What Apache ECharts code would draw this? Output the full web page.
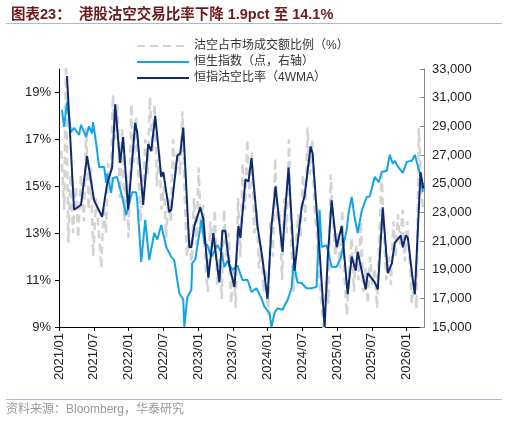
<!DOCTYPE html>
<html><head><meta charset="utf-8">
<script src="https://cdn.jsdelivr.net/npm/echarts@6/dist/echarts.min.js"></script>
<style>html,body{margin:0;padding:0;background:#fff}#c{width:507px;height:424px}</style>
</head><body><div id="c"></div>
<script>
// x values: months since 2021/01
const xTickLabels = ['2021/01','2021/07','2022/01','2022/07','2023/01','2023/07','2024/01','2024/07','2025/01','2025/07','2026/01'];
const hsiMonths = [0.52,0.87,1.38,2.08,2.6,3.46,3.8,4.67,5.19,5.71,5.88,6.4,6.92,7.79,8.13,8.3,9.0,9.34,10.03,10.9,11.59,12.11,12.63,13.32,13.5,14.19,14.88,15.57,16.44,16.96,17.65,18.51,19.38,19.9,20.76,21.45,21.63,22.15,22.84,23.01,23.53,24.57,25.09,25.61,26.3,26.82,27.34,28.03,28.55,29.07,29.93,30.8,31.66,32.53,33.22,34.08,34.95,35.47,36.33,36.68,37.2,37.72,38.58,39.45,40.14,40.48,41.18,41.87,42.73,43.6,44.46,44.98,45.33,46.19,47.06,47.92,48.62,49.65,50.0,50.52,51.04,51.56,52.25,53.11,53.63,54.5,55.19,55.71,56.57,57.09,57.61,57.96,58.48,59.34,60.03,60.9,61.42,61.76,62.28,62.8];
const hsiValues = [30150,28960,30700,28600,28900,28400,29100,28260,29000,28500,29300,27840,26170,26170,25050,25700,24350,25400,25470,24070,22820,23600,24400,24400,23800,19540,22470,19680,21560,21100,22120,20580,19890,19650,17370,16900,15000,17100,17580,19470,19700,22470,20860,20700,19890,20300,20720,20200,19190,19600,18980,19300,18280,18300,17440,17700,16980,16400,15980,15000,16000,16300,16200,16880,17700,19470,18100,18070,17700,17700,17800,23170,20580,20700,19190,19200,19800,21770,23000,24070,22600,21560,23100,24070,24100,25470,25100,25820,25900,27010,26400,26600,26200,25750,26520,26600,27010,27000,25750,24420];
const wmaMonths = [1.38,2.6,3.8,4.84,6.06,7.44,8.3,9.17,9.69,10.55,11.07,11.94,13.15,13.5,14.53,15.4,15.92,16.61,17.65,18.0,19.03,19.38,20.42,20.93,21.45,22.49,22.84,23.36,24.39,24.91,25.78,26.64,27.16,27.68,28.2,28.72,29.41,30.28,30.97,31.31,32.18,32.7,33.22,34.26,35.12,35.99,36.68,37.37,38.58,38.93,39.62,40.66,41.87,42.39,43.43,43.77,44.98,45.85,46.37,47.06,47.92,48.79,49.83,50.52,51.21,51.56,52.42,52.94,53.29,54.5,55.02,55.88,56.75,57.44,57.96,58.99,59.34,59.86,60.21,61.07,61.42,62.4,62.9];
const wmaValues = [19.7,14.0,14.2,16.3,14.4,13.7,15.1,15.8,18.5,16.0,17.1,14.0,17.7,17.3,14.2,16.8,16.5,18.0,15.4,15.6,13.9,14.0,16.3,16.4,17.5,12.4,12.4,13.3,14.1,13.6,11.1,13.0,11.9,10.9,13.1,13.1,11.6,10.7,13.3,12.8,15.3,15.2,16.2,13.3,11.9,10.2,13.3,15.0,12.2,13.6,15.8,11.4,14.1,14.6,16.7,16.4,12.2,9.0,11.9,14.4,12.4,13.3,10.4,12.0,11.4,12.2,11.2,10.6,11.3,10.9,10.6,14.1,11.3,11.7,12.6,12.9,12.4,12.9,12.8,11.0,10.4,15.6,14.9];
const rawMonths = [0.4,0.9,1.2,1.6,2.0,2.4,2.9,3.3,3.8,4.3,4.7,5.1,5.5,5.9,6.4,6.9,7.3,7.7,8.1,8.5,8.9,9.3,9.7,10.1,10.5,10.9,11.3,11.7,12.0,12.5,12.9,13.3,13.7,14.1,14.5,14.9,15.3,15.7,16.1,16.5,16.9,17.3,17.7,18.1,18.5,18.9,19.3,19.7,20.1,20.5,20.9,21.3,21.7,22.1,22.5,22.9,23.3,23.7,24.1,24.5,24.9,25.3,25.7,26.1,26.5,26.9,27.3,27.7,28.1,28.5,28.9,29.3,29.7,30.1,30.5,30.9,31.3,31.7,32.1,32.5,32.9,33.3,33.7,34.1,34.5,34.9,35.3,35.7,36.1,36.5,36.9,37.3,37.7,38.1,38.5,38.9,39.3,39.7,40.1,40.5,40.9,41.3,41.7,42.1,42.5,42.9,43.3,43.7,44.1,44.5,44.9,45.3,45.7,46.1,46.5,46.9,47.3,47.7,48.1,48.5,48.9,49.3,49.7,50.1,50.5,50.9,51.3,51.7,52.1,52.5,52.9,53.3,53.7,54.1,54.5,54.9,55.3,55.7,56.1,56.5,56.9,57.3,57.7,58.1,58.5,58.9,59.3,59.7,60.1,60.5,60.9,61.3,61.7,62.1,62.5,62.8];
const rawValues = [16.5,14.0,20.5,12.6,15.5,13.0,15.0,12.8,15.5,13.5,17.5,14.0,15.8,12.0,14.5,13.0,11.5,14.2,13.0,16.0,14.8,18.9,17.0,18.5,14.5,17.5,13.5,15.5,12.8,18.5,16.0,18.0,15.5,13.5,15.0,17.0,15.5,18.8,16.5,18.5,15.0,16.5,14.0,15.0,12.8,14.5,13.5,17.0,15.5,16.5,15.5,18.2,14.5,12.0,13.0,11.5,14.5,12.5,15.8,13.0,14.2,11.5,10.5,13.5,12.0,14.0,10.8,12.0,10.2,14.0,12.0,13.0,10.0,11.5,9.8,14.5,12.0,16.0,14.0,17.0,14.5,16.5,13.0,14.0,11.5,12.5,10.5,11.5,9.5,13.5,12.0,16.2,13.5,14.0,11.0,14.5,13.0,17.0,12.5,10.5,12.5,13.8,12.8,15.5,13.5,17.5,15.5,17.0,14.0,13.0,11.0,10.0,8.8,11.0,10.0,15.5,13.5,12.0,13.0,11.5,14.0,11.0,9.5,11.5,12.8,10.5,12.5,11.0,13.5,10.5,11.5,10.0,12.0,10.8,11.5,9.8,13.0,15.5,12.8,11.0,12.0,10.8,13.5,12.0,13.8,12.5,14.0,11.8,13.5,12.0,10.0,11.0,9.8,17.5,15.0,14.1];

const zip = (a,b)=>a.map((v,i)=>[v,b[i]]);
const chart = echarts.init(document.getElementById('c'));
const font = 'Liberation Sans, Noto Sans CJK SC, sans-serif';
chart.setOption({
  animation:false,
  textStyle:{fontFamily:font},
  title:{text:'图表23：  港股沽空交易比率下降 1.9pct 至 14.1%',left:6,top:3,textStyle:{fontSize:14.5,fontWeight:'bold',color:'#6e1a1a',fontFamily:font}},
  graphic:[
    {type:'line',shape:{x1:6,y1:23.5,x2:502,y2:23.5},style:{stroke:'#a9bccf',lineWidth:1}},
    {type:'line',shape:{x1:6,y1:399.5,x2:502,y2:399.5},style:{stroke:'#a9bccf',lineWidth:1}},
    {type:'text',left:6,top:404,style:{text:'资料来源：Bloomberg，华泰研究',fill:'#999',fontSize:12,fontFamily:font}}
  ],
  legend:{orient:'vertical',left:131,top:35,itemGap:4,itemWidth:52,itemHeight:12,
    itemStyle:{color:'transparent',borderWidth:0,opacity:0},
    textStyle:{fontSize:12,color:'#333'},
    data:['沽空占市场成交额比例（%）','恒生指数（点，右轴）','恒指沽空比率（4WMA）']},
  grid:{left:59,right:83,top:69,bottom:97},
  xAxis:{type:'value',min:0,max:63,interval:6,
    axisLine:{lineStyle:{color:'#000'}},axisTick:{show:true,length:4,lineStyle:{color:'#000'}},
    splitLine:{show:false},
    axisLabel:{rotate:90,showMaxLabel:false,fontSize:13,color:'#222',margin:6,formatter:v=>xTickLabels[Math.round(v/6)]||''}},
  yAxis:[
    {type:'value',min:9,max:20,interval:2,position:'left',
     axisLine:{show:true,lineStyle:{color:'#000'}},axisTick:{show:true,length:4,lineStyle:{color:'#000'}},splitLine:{show:false},
     axisLabel:{fontSize:13,color:'#222',showMaxLabel:false,formatter:v=>v>19.5?'':v+'%'}},
    {type:'value',min:15000,max:33000,interval:2000,position:'right',
     axisLine:{show:true,lineStyle:{color:'#888'}},axisTick:{show:true,length:4,inside:true,lineStyle:{color:'#888'}},splitLine:{show:false},
     axisLabel:{fontSize:13,color:'#222',formatter:v=>v.toLocaleString('en-US')}}
  ],
  series:[
    {name:'沽空占市场成交额比例（%）',type:'line',yAxisIndex:0,data:zip(rawMonths,rawValues),showSymbol:false,symbol:'none',
     lineStyle:{color:'#d3d3d3',width:2.5,type:[8,5]},itemStyle:{color:'#d3d3d3'}},
    {name:'恒生指数（点，右轴）',type:'line',yAxisIndex:1,data:zip(hsiMonths,hsiValues),showSymbol:false,symbol:'none',
     lineStyle:{color:'#12a5e6',width:2},itemStyle:{color:'#12a5e6'}},
    {name:'恒指沽空比率（4WMA）',type:'line',yAxisIndex:0,data:zip(wmaMonths,wmaValues),showSymbol:false,symbol:'none',
     lineStyle:{color:'#0d2a6e',width:2},itemStyle:{color:'#0d2a6e'}}
  ]
});
</script></body></html>
